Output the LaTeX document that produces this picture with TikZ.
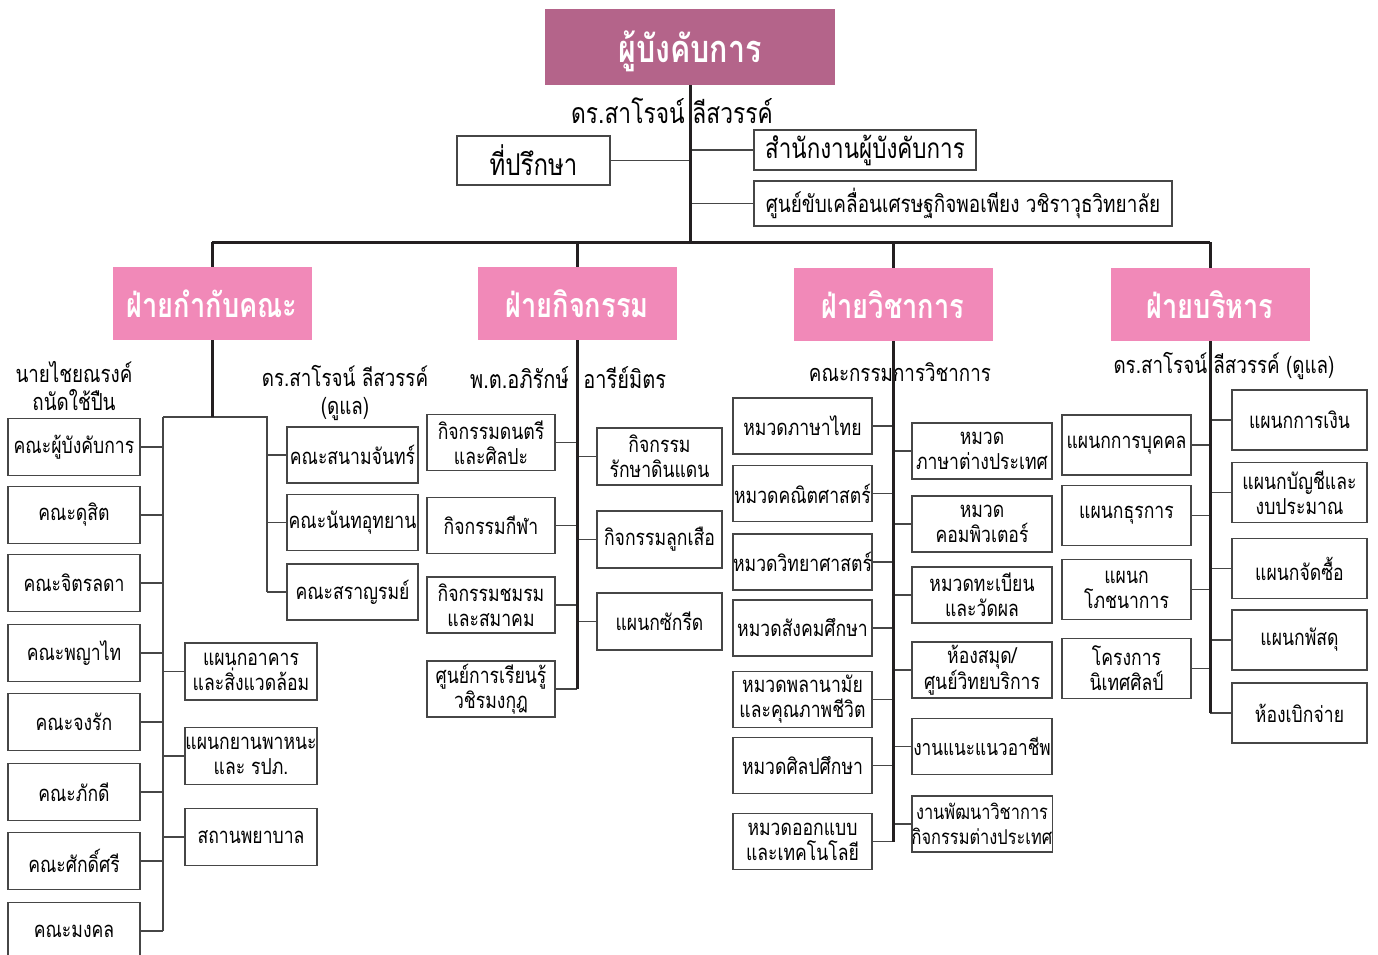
\documentclass[tikz,border=0pt]{standalone}
\usepackage{fontspec}
\setmainfont[Script=Thai,FakeStretch=0.8]{Loma}
\definecolor{chief}{RGB}{180,100,138}
\definecolor{dept}{RGB}{241,137,184}
\definecolor{rule}{RGB}{35,31,32}
\definecolor{frame}{RGB}{70,70,70}

\begin{document}
\begin{tikzpicture}[x=1pt, y=-1pt, font=\fontsize{22}{25}\selectfont]
\tikzstyle{unit}=[draw=frame, line width=1.6pt, align=center, inner sep=0pt]
\tikzstyle{head}=[fill=dept, text=white, minimum width=199pt, minimum height=73pt, font=\fontsize{34}{36}\selectfont\bfseries]
\tikzstyle{who}=[align=center, inner sep=0pt, font=\fontsize{23.5}{28}\selectfont]
\tikzstyle{trunk}=[draw=rule, line width=3pt]
\tikzstyle{twig}=[draw=frame, line width=1.5pt]
\tikzstyle{kbox}=[unit, minimum width=132pt, minimum height=57pt]
\tikzstyle{sbox}=[unit, minimum width=131pt, minimum height=56pt]
\tikzstyle{abox}=[unit, minimum width=128pt, minimum height=56pt]
\tikzstyle{bbox}=[unit, minimum width=125pt, minimum height=57pt]
\tikzstyle{cbox}=[unit, minimum width=139pt, minimum height=56pt]
\tikzstyle{dbox}=[unit, minimum width=140pt, minimum height=56pt]
\tikzstyle{ebox}=[unit, minimum width=129pt, minimum height=60pt]
\tikzstyle{fbox}=[unit, minimum width=135pt, minimum height=60pt]
\useasboundingbox (0,0) rectangle (1378,955);
% top
\node[fill=chief, text=white, minimum width=290pt, minimum height=76pt, font=\fontsize{38}{42}\selectfont\bfseries] (TOP) at (690,47) {\raisebox{0pt}[\dimexpr\height+8pt\relax]{ผู้บังคับการ}};
\node[who, font=\fontsize{28.5}{32}\selectfont] (chiefname) at (672,111) {ดร.สาโรจน์ ลีสวรรค์};
\node[unit, minimum width=153pt, minimum height=49pt, font=\fontsize{30}{32}\selectfont] (ADV) at (533.5,160.5) {ที่ปรึกษา};
\node[unit, minimum width=222pt, minimum height=40pt, font=\fontsize{28}{30}\selectfont] (OFF) at (865,150) {สำนักงานผู้บังคับการ};
\node[unit, minimum width=418pt, minimum height=45pt, font=\fontsize{23.7}{26}\selectfont] (CEN) at (963,203.5) {ศูนย์ขับเคลื่อนเศรษฐกิจพอเพียง วชิราวุธวิทยาลัย};
\coordinate (bus) at (690,242);
% divisions
\node[head] (D1) at (212,303.5) {ฝ่ายกำกับคณะ};
\node[head] (D2) at (577,303.5) {ฝ่ายกิจกรรม};
\node[head] (D3) at (893,304.5) {ฝ่ายวิชาการ};
\node[head] (D4) at (1210,304.5) {ฝ่ายบริหาร};
% ฝ่ายกำกับคณะ
\node[who] (D1left) at (74,386) {นายไชยณรงค์\\ถนัดใช้ปืน};
\node[who] (D1right) at (345,393) {ดร.สาโรจน์ ลีสวรรค์\\(ดูแล)};
\coordinate (G1L) at (163,417);
\coordinate (G1R) at (267,417);
\node[kbox] (K1) at (74,447) {คณะผู้บังคับการ};
\node[kbox] (K2) at (74,515) {คณะดุสิต};
\node[kbox] (K3) at (74,583) {คณะจิตรลดา};
\node[kbox] (K4) at (74,653) {คณะพญาไท};
\node[kbox] (K5) at (74,722) {คณะจงรัก};
\node[kbox] (K6) at (74,792) {คณะภักดี};
\node[kbox] (K7) at (74,861) {คณะศักดิ์ศรี};
\node[kbox] (K8) at (74,931) {คณะมงคล};
\node[sbox] (S1) at (352.5,455) {คณะสนามจันทร์};
\node[sbox] (S2) at (352.5,522.5) {คณะนันทอุทยาน};
\node[sbox] (S3) at (352.5,592) {คณะสราญรมย์};
\node[kbox] (P1) at (251,671.5) {แผนกอาคาร\\และสิ่งแวดล้อม};
\node[kbox] (P2) at (251,756) {แผนกยานพาหนะ\\และ รปภ.};
\node[kbox] (P3) at (251,837) {สถานพยาบาล};
% ฝ่ายกิจกรรม
\node[who, anchor=west, font=\fontsize{25}{28}\selectfont] (D2name) at (470,378) {พ.ต.อภิรักษ์\hspace{8pt} อารีย์มิตร};
\node[abox] (A1) at (491,442.5) {กิจกรรมดนตรี\\และศิลปะ};
\node[abox] (A2) at (491,525.5) {กิจกรรมกีฬา};
\node[abox] (A3) at (491,605) {กิจกรรมชมรม\\และสมาคม};
\node[abox] (A4) at (491,689) {ศูนย์การเรียนรู้\\วชิรมงกุฎ};
\node[bbox] (B1) at (659.5,456.5) {กิจกรรม\\รักษาดินแดน};
\node[bbox] (B2) at (659.5,539.5) {กิจกรรมลูกเสือ};
\node[bbox] (B3) at (659.5,621.5) {แผนกซักรีด};
% ฝ่ายวิชาการ
\node[who] (D3name) at (900,372) {คณะกรรมการวิชาการ};
\node[cbox] (C1) at (802.5,426) {หมวดภาษาไทย};
\node[cbox] (C2) at (802.5,493.5) {หมวดคณิตศาสตร์};
\node[cbox] (C3) at (802.5,562) {หมวดวิทยาศาสตร์};
\node[cbox] (C4) at (802.5,628) {หมวดสังคมศึกษา};
\node[cbox] (C5) at (802.5,699.5) {หมวดพลานามัย\\และคุณภาพชีวิต};
\node[cbox] (C6) at (802.5,765.5) {หมวดศิลปศึกษา};
\node[cbox] (C7) at (802.5,841.5) {หมวดออกแบบ\\และเทคโนโลยี};
\node[dbox] (E1) at (982,451) {หมวด\\ภาษาต่างประเทศ};
\node[dbox] (E2) at (982,524) {หมวด\\คอมพิวเตอร์};
\node[dbox] (E3) at (982,595) {หมวดทะเบียน\\และวัดผล};
\node[dbox] (E4) at (982,670) {ห้องสมุด/\\ศูนย์วิทยบริการ};
\node[dbox, font=\fontsize{21.5}{25}\selectfont] (E5) at (982,746.5) {งานแนะแนวอาชีพ};
\node[dbox, font=\fontsize{20.5}{25}\selectfont] (E6) at (982,824) {งานพัฒนาวิชาการ\\กิจกรรมต่างประเทศ};
% ฝ่ายบริหาร
\node[who] (D4name) at (1224,366) {ดร.สาโรจน์ ลีสวรรค์ (ดูแล)};
\node[ebox] (M1) at (1126.5,445) {แผนกการบุคคล};
\node[ebox] (M2) at (1126.5,515.5) {แผนกธุรการ};
\node[ebox] (M3) at (1126.5,589.5) {แผนก\\โภชนาการ};
\node[ebox] (M4) at (1126.5,668.5) {โครงการ\\นิเทศศิลป์};
\node[fbox] (F1) at (1299.5,420) {แผนกการเงิน};
\node[fbox] (F2) at (1299.5,492.5) {แผนกบัญชีและ\\งบประมาณ};
\node[fbox] (F3) at (1299.5,568.5) {แผนกจัดซื้อ};
\node[fbox] (F4) at (1299.5,640) {แผนกพัสดุ};
\node[fbox] (F5) at (1299.5,713) {ห้องเบิกจ่าย};
% thin links
\draw[twig] (ADV.east) -- (ADV.east -| TOP.south)
  (OFF.west) -- (OFF.west -| TOP.south)
  (CEN.west) -- (CEN.west -| TOP.south);
\draw[twig] (G1L) -- (G1R) -- (G1R |- S3.west)
  (G1L) -- (G1L |- K8.east)
  (K1.east) -- (K1.east -| G1L) (K2.east) -- (K2.east -| G1L)
  (K3.east) -- (K3.east -| G1L) (K4.east) -- (K4.east -| G1L)
  (K5.east) -- (K5.east -| G1L) (K6.east) -- (K6.east -| G1L)
  (K7.east) -- (K7.east -| G1L) (K8.east) -- (K8.east -| G1L)
  (S1.west) -- (S1.west -| G1R) (S2.west) -- (S2.west -| G1R)
  (S3.west) -- (S3.west -| G1R)
  (P1.west) -- (P1.west -| G1L) (P2.west) -- (P2.west -| G1L)
  (P3.west) -- (P3.west -| G1L);
\draw[twig] (A1.east) -- (A1.east -| D2.south) (A2.east) -- (A2.east -| D2.south)
  (A3.east) -- (A3.east -| D2.south) (A4.east) -- (A4.east -| D2.south)
  (B1.west) -- (B1.west -| D2.south) (B2.west) -- (B2.west -| D2.south)
  (B3.west) -- (B3.west -| D2.south);
\draw[twig] (C1.east) -- (C1.east -| D3.south) (C2.east) -- (C2.east -| D3.south)
  (C3.east) -- (C3.east -| D3.south) (C4.east) -- (C4.east -| D3.south)
  (C5.east) -- (C5.east -| D3.south) (C6.east) -- (C6.east -| D3.south)
  (C7.east) -- (C7.east -| D3.south)
  (E1.west) -- (E1.west -| D3.south) (E2.west) -- (E2.west -| D3.south)
  (E3.west) -- (E3.west -| D3.south) (E4.west) -- (E4.west -| D3.south)
  (E5.west) -- (E5.west -| D3.south) (E6.west) -- (E6.west -| D3.south);
\draw[twig] (M1.east) -- (M1.east -| D4.south) (M2.east) -- (M2.east -| D4.south)
  (M3.east) -- (M3.east -| D4.south) (M4.east) -- (M4.east -| D4.south)
  (F1.west) -- (F1.west -| D4.south) (F2.west) -- (F2.west -| D4.south)
  (F3.west) -- (F3.west -| D4.south) (F4.west) -- (F4.west -| D4.south)
  (F5.west) -- (F5.west -| D4.south);
% thick lines
\draw[trunk] (TOP.south) -- (bus);
\draw[trunk] (D1.north |- bus) -- (D4.north |- bus);
\draw[trunk] (D1.north |- bus) -- (D1.north) (D2.north |- bus) -- (D2.north)
  (D3.north |- bus) -- (D3.north) (D4.north |- bus) -- (D4.north);
\draw[trunk] (D1.south) -- (D1.south |- G1L);
\draw[trunk] (D2.south) -- (D2.south |- A4.east);
\draw[trunk] (D3.south) -- (D3.south |- C7.east);
\draw[trunk] (D4.south) -- (D4.south |- F5.west);
\end{tikzpicture}
\end{document}
